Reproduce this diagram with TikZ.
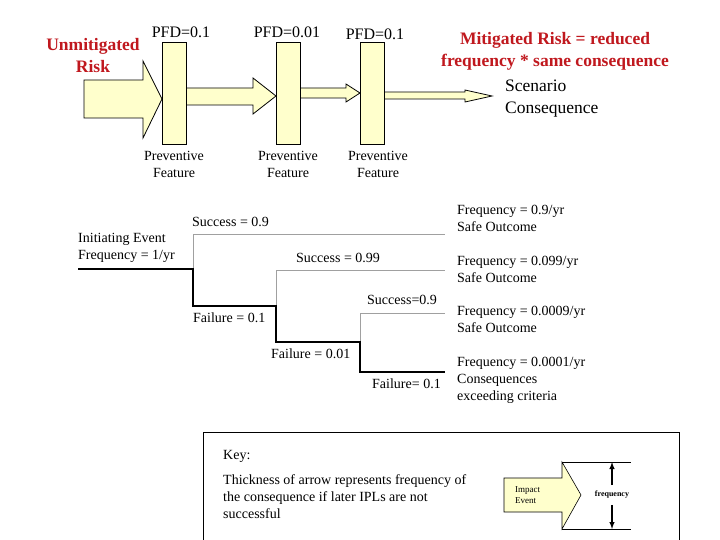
\documentclass[tikz,border=0pt]{standalone}
\usepackage{fontspec}
\setmainfont{Liberation Serif}
\definecolor{pale}{RGB}{255,255,204}
\definecolor{riskred}{RGB}{192,24,30}
\definecolor{branchgray}{RGB}{160,160,160}
\begin{document}
\begin{tikzpicture}[x=1pt,y=-1pt,
  shaft/.style={draw=black,fill=pale,line width=0.8pt,line join=miter},
  ipl/.style={draw=black,fill=pale,line width=0.8pt},
  lbl/.style={inner sep=0pt,font=\fontsize{14}{17}\selectfont},
  pfd/.style={inner sep=0pt,font=\fontsize{16}{18}\selectfont},
  redt/.style={inner sep=0pt,text=riskred,font=\bfseries\fontsize{17.5}{22}\selectfont,align=center},
  fail/.style={line width=2pt,black},
  succ/.style={line width=1pt,branchgray},
  every node/.style={inner sep=0pt}]
\useasboundingbox (0,0) rectangle (720,540);

% flow arrows
\draw[shaft] (84,80) -- (143,80) -- (143,61) -- (162,99) -- (143,138) -- (143,118) -- (84,118) -- cycle;
\draw[shaft] (186,88) -- (253,88) -- (253,78) -- (276,96) -- (253,114) -- (253,105) -- (186,105) -- cycle;
\draw[shaft] (300,88) -- (346,88) -- (346,84) -- (360,93) -- (346,102) -- (346,98) -- (300,98) -- cycle;
\draw[shaft] (384,92) -- (465,92) -- (465,90) -- (492,96) -- (465,102) -- (465,99) -- (384,99) -- cycle;

% IPL boxes
\node[ipl,minimum width=24pt,minimum height=102pt,anchor=north west] (b1) at (162,42) {};
\node[ipl,minimum width=24pt,minimum height=102pt,anchor=north west] (b2) at (276,42) {};
\node[ipl,minimum width=24pt,minimum height=102pt,anchor=north west] (b3) at (360,42) {};

\node[pfd] (p1) at (181,32) {PFD=0.1};
\node[pfd] (p2) at (287,32) {PFD=0.01};
\node[pfd] (p3) at (375,34) {PFD=0.1};

\node[lbl,align=center,font=\fontsize{14}{17}\selectfont] (f1) at (174,164) {Preventive\\Feature};
\node[lbl,align=center,font=\fontsize{14}{17}\selectfont] (f2) at (288,164) {Preventive\\Feature};
\node[lbl,align=center,font=\fontsize{14}{17}\selectfont] (f3) at (378,164) {Preventive\\Feature};

\node[redt] (unm) at (93,56) {Unmitigated\\Risk};
\node[redt] (mit) at (555,51) {Mitigated Risk = reduced\\frequency * same consequence};
\node[pfd,align=left,anchor=west,font=\fontsize{17.5}{22}\selectfont] (scen) at (505,99) {Scenario\\Consequence};

% event tree
\coordinate (s0) at (78,269);
\coordinate (n1) at (193,269);
\coordinate (n1u) at (193,234);
\coordinate (e1) at (445,234);
\coordinate (n1d) at (193,306);
\coordinate (n2) at (276,306);
\coordinate (n2u) at (276,270);
\coordinate (e2) at (445,270);
\coordinate (n2d) at (276,342);
\coordinate (n3) at (360,342);
\coordinate (n3u) at (360,313);
\coordinate (e3) at (445,313);
\coordinate (n3d) at (360,372);
\coordinate (e4) at (445,372);

\draw[succ] (n1) -- (n1u) -- (e1);
\draw[succ] (n2) -- (n2u) -- (e2);
\draw[succ] (n3) -- (n3u) -- (e3);
\draw[fail,line join=miter] (s0) -- (n1) -- (n1d) -- (n2) -- (n2d) -- (n3) -- (n3d) -- (e4);

\node[lbl,align=left,anchor=west] (ie) at (78,248) {Initiating Event\\Frequency = 1/yr};
\node[lbl,anchor=west] (sc1) at (192,222) {Success = 0.9};
\node[lbl,anchor=west] (sc2) at (296,258) {Success = 0.99};
\node[lbl,anchor=west] (sc3) at (367,300) {Success=0.9};
\node[lbl,anchor=west] (fl1) at (193,318) {Failure = 0.1};
\node[lbl,anchor=west] (fl2) at (271,354) {Failure = 0.01};
\node[lbl,anchor=west] (fl3) at (372,384) {Failure= 0.1};

\node[lbl,align=left,anchor=west] (o1) at (457,218) {Frequency = 0.9/yr\\Safe Outcome};
\node[lbl,align=left,anchor=west] (o2) at (457,269) {Frequency = 0.099/yr\\Safe Outcome};
\node[lbl,align=left,anchor=west] (o3) at (457,319) {Frequency = 0.0009/yr\\Safe Outcome};
\node[lbl,align=left,anchor=west] (o4) at (457,380) {Frequency = 0.0001/yr\\Consequences\\exceeding criteria};

% key
\draw[black,line width=0.8pt] (203,560) -- (203,432) -- (679,432) -- (679,560);
\node[lbl,anchor=west,font=\fontsize{14}{17}\selectfont] (key) at (223,456) {Key:};
\node[lbl,align=left,anchor=north west,font=\fontsize{14}{17}\selectfont] (ktxt) at (223,474) {Thickness of arrow represents frequency of\\the consequence if later IPLs are not\\successful};
\draw[shaft,line width=0.6pt] (504,478) -- (562,478) -- (562,462) -- (581,495) -- (562,529) -- (562,512) -- (504,512) -- cycle;
\node[lbl,align=left,anchor=west,font=\fontsize{9}{11}\selectfont] (imp) at (515,495) {Impact\\Event};
\coordinate (kt) at (631,462);
\coordinate (kb) at (631,529);
\draw[black,line width=0.6pt] (562,462) -- (kt);
\draw[black,line width=0.6pt] (562,529) -- (kb);
\node[lbl,font=\bfseries\fontsize{8}{10}\selectfont] (kfreq) at (612,495) {frequency};
\coordinate (kat) at (612,462);
\coordinate (kab) at (612,529);
\draw[-latex,line width=1.4pt] (kfreq.north) ++(0,-6) -- (kat);
\draw[-latex,line width=1.4pt] (kfreq.south) ++(0,6) -- (kab);
\end{tikzpicture}
\end{document}
